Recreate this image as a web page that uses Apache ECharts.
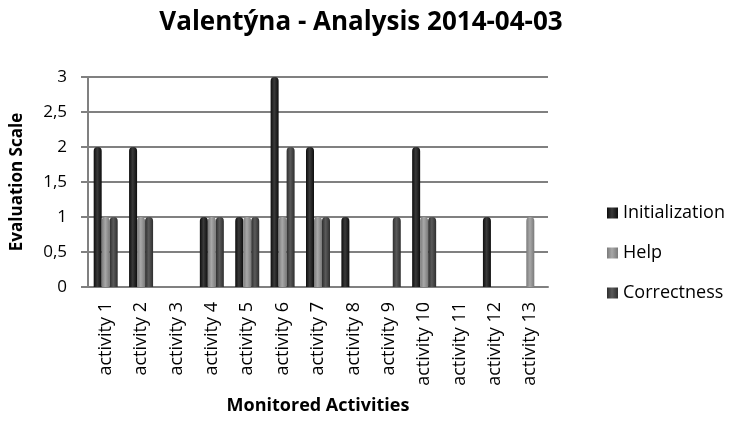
<!DOCTYPE html>
<html>
<head>
<meta charset="utf-8">
<script src="https://cdn.jsdelivr.net/npm/echarts@6/dist/echarts.min.js"></script>
<style>
  html, body { margin: 0; padding: 0; background: #fff; }
  #chart { width: 730px; height: 424px; }
</style>
</head>
<body>
<div id="chart"></div>
<script>
var categories = ['activity 1', 'activity 2', 'activity 3', 'activity 4', 'activity 5', 'activity 6',
  'activity 7', 'activity 8', 'activity 9', 'activity 10', 'activity 11', 'activity 12', 'activity 13'];
var initialization = [2, 2, 0, 1, 1, 3, 2, 1, 0, 2, 0, 1, 0];
var help = [1, 1, 0, 1, 1, 1, 1, 0, 0, 1, 0, 0, 1];
var correctness = [1, 1, 0, 1, 1, 2, 1, 0, 1, 1, 0, 0, 0];

// cylinder-ish shading, like the old excel 3d bars
function shade(edge, mid) {
  return new echarts.graphic.LinearGradient(0, 0, 1, 0, [
    { offset: 0, color: edge },
    { offset: 0.45, color: mid },
    { offset: 1, color: edge }
  ]);
}

var font = 'Open Sans';
var chart = echarts.init(document.getElementById('chart'));

function bar(name, data, edge, mid) {
  return {
    name: name,
    type: 'bar',
    data: data,
    barWidth: 8,
    barGap: '0%',
    itemStyle: {
      color: shade(edge, mid),
      borderRadius: [4, 4, 0, 0]
    }
  };
}

chart.setOption({
  animation: false,
  title: {
    text: 'Valentýna - Analysis 2014-04-03',
    left: 356,
    top: 5,
    textAlign: 'center',
    textStyle: { fontFamily: font, fontSize: 26, fontWeight: 'bold', color: '#000' }
  },
  legend: {
    orient: 'vertical',
    left: 602,
    top: 199,
    itemWidth: 11,
    itemHeight: 11,
    itemGap: 22,
    icon: 'rect',
    textStyle: { fontFamily: font, fontSize: 18, color: '#000' },
    data: ['Initialization', 'Help', 'Correctness']
  },
  grid: { left: 88, right: 182, top: 77, bottom: 137 },
  xAxis: {
    type: 'category',
    data: categories,
    name: 'Monitored Activities',
    nameLocation: 'middle',
    nameGap: 110,
    nameTextStyle: { fontFamily: font, fontSize: 18, fontWeight: 'bold', color: '#000' },
    axisLine: { lineStyle: { color: '#808080', width: 2 } },
    axisTick: { show: false },
    axisLabel: {
      rotate: 90,
      interval: 0,
      margin: 15,
      fontFamily: font,
      fontSize: 18,
      color: '#000'
    }
  },
  yAxis: {
    type: 'value',
    min: 0,
    max: 3,
    interval: 0.5,
    name: 'Evaluation Scale',
    nameLocation: 'middle',
    nameRotate: 90,
    nameGap: 62,
    nameTextStyle: { fontFamily: font, fontSize: 17, fontWeight: 'bold', color: '#000' },
    axisLine: { show: true, lineStyle: { color: '#808080', width: 2 } },
    axisTick: { show: true, length: 7, lineStyle: { color: '#808080', width: 2 } },
    splitLine: { lineStyle: { color: '#808080', width: 2 } },
    axisLabel: {
      margin: 21,
      fontFamily: font,
      fontSize: 17,
      color: '#000',
      formatter: function (v) { return String(v).replace('.', ','); }
    }
  },
  series: [
    bar('Initialization', initialization, '#0d0d0d', '#3a3a3a'),
    bar('Help', help, '#7a7a7a', '#a8a8a8'),
    bar('Correctness', correctness, '#2e2e2e', '#5a5a5a')
  ]
});
</script>
</body>
</html>
